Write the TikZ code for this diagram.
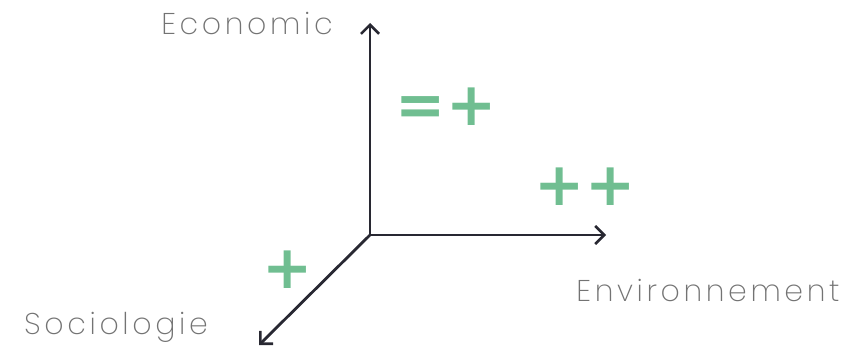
\documentclass[tikz,border=0pt]{standalone}
\usepackage{fontspec}
\usepackage{xcolor}
\usetikzlibrary{arrows.meta,positioning}
\newfontfamily\axisfont[LetterSpace=12,UprightFont=* ExtraLight]{Poppins}
\newfontfamily\signfont{DejaVu Sans}
\definecolor{axisdark}{RGB}{40,40,50}
\definecolor{signgreen}{RGB}{112,190,145}

\begin{document}
\begin{tikzpicture}[
  x=1pt, y=-1pt,
  ax/.style={draw=axisdark, line width=2.8pt, -{Straight Barb[length=9pt,width=18pt,line width=2.6pt]}},
  lbl/.style={font=\axisfont\fontsize{30}{30}\selectfont, text=black!55, inner sep=0pt},
  sgn/.style={font=\signfont\bfseries\fontsize{60}{60}\selectfont, text=signgreen, inner sep=0pt}
]
\useasboundingbox (0,0) rectangle (866,350);
\coordinate (origin) at (370,235);
\coordinate (econtip) at (370,23);
\coordinate (envtip) at (606,235);
\coordinate (soctip) at (259,345);
\draw[ax] (origin) -- (econtip);
\draw[ax] (origin) -- (envtip);
\draw[ax] (origin) -- (soctip);
\node[lbl] (econ) at (247,23) {Economic};
\node[lbl] (envi) at (708,290) {Environnement};
\node[lbl] (soc) at (116,327) {Sociologie};
\node[sgn] (eqplus) at (446,107) {=+};
\node[sgn] (plusplus) at (585,187) {++};
\node[sgn] (plus) at (288,270) {+};
\end{tikzpicture}
\end{document}
